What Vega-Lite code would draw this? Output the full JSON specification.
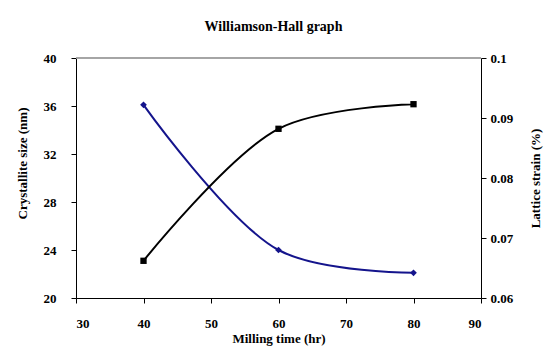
{
  "$schema": "https://vega.github.io/schema/vega-lite/v6.json",
  "width": 405,
  "height": 240,
  "autosize": {"type": "none"},
  "padding": {"left": 76, "top": 58, "right": 73, "bottom": 57},
  "background": "white",
  "config": {
    "view": {"stroke": null},
    "font": "Liberation Serif",
    "axis": {"labelFont": "Liberation Serif", "titleFont": "Liberation Serif", "labelFontWeight": "bold", "titleFontWeight": "bold", "labelFontSize": 13, "titleFontSize": 13, "labelColor": "black", "titleColor": "black", "domainColor": "black", "tickColor": "black", "grid": false, "tickSize": 5}
  },
  "title": {"text": "Williamson-Hall graph", "font": "Liberation Serif", "fontSize": 14, "fontWeight": "bold", "color": "black", "offset": 18, "dx": -5},
  "datasets": {
    "size": [
      {"time": 40, "size": 36.1},
      {"time": 60, "size": 24.0},
      {"time": 80, "size": 22.1}
    ],
    "strain": [
      {"time": 40, "strain": 0.0662},
      {"time": 60, "strain": 0.0882},
      {"time": 80, "strain": 0.0923}
    ]
  },
  "layer": [
    {
      "data": {"name": "size"},
      "layer": [
        {
          "mark": {"type": "line", "color": "#14148c", "strokeWidth": 2, "interpolate": "catmull-rom"},
          "encoding": {
            "x": {"field": "time", "type": "quantitative", "scale": {"domain": [30, 90]}, "axis": {"title": "Milling time (hr)", "values": [30, 40, 50, 60, 70, 80, 90], "titlePadding": 2, "labelPadding": 14}},
            "y": {"field": "size", "type": "quantitative", "scale": {"domain": [20, 40]}, "axis": {"title": "Crystallite size (nm)", "values": [20, 24, 28, 32, 36, 40], "titlePadding": 14, "titleY": 105, "labelPadding": 15}}
          }
        },
        {
          "mark": {"type": "point", "shape": "diamond", "filled": true, "color": "#14148c", "size": 45, "opacity": 1},
          "encoding": {
            "x": {"field": "time", "type": "quantitative", "axis": {"title": "Milling time (hr)", "values": [30, 40, 50, 60, 70, 80, 90], "titlePadding": 2, "labelPadding": 14}},
            "y": {"field": "size", "type": "quantitative", "axis": {"title": "Crystallite size (nm)", "values": [20, 24, 28, 32, 36, 40], "titlePadding": 14, "titleY": 105, "labelPadding": 15}}
          }
        }
      ]
    },
    {
      "data": {"name": "strain"},
      "layer": [
        {
          "mark": {"type": "rule", "color": "#999999", "strokeWidth": 1},
          "encoding": {
            "y": {"datum": 0.1, "type": "quantitative", "scale": {"domain": [0.06, 0.1]}}
          }
        },
        {
          "mark": {"type": "line", "color": "black", "strokeWidth": 2, "interpolate": "catmull-rom"},
          "encoding": {
            "x": {"field": "time", "type": "quantitative"},
            "y": {"field": "strain", "type": "quantitative", "scale": {"domain": [0.06, 0.1]}, "axis": {"orient": "right", "title": "Lattice strain (%)", "format": "~g", "values": [0.06, 0.07, 0.08, 0.09, 0.1], "titleAngle": 270, "titlePadding": 30, "labelPadding": 4}}
          }
        },
        {
          "mark": {"type": "square", "color": "black", "filled": true, "size": 40, "opacity": 1},
          "encoding": {
            "x": {"field": "time", "type": "quantitative"},
            "y": {"field": "strain", "type": "quantitative", "axis": {"orient": "right", "title": "Lattice strain (%)", "format": "~g", "values": [0.06, 0.07, 0.08, 0.09, 0.1], "titleAngle": 270, "titlePadding": 30, "labelPadding": 4}}
          }
        }
      ]
    }
  ],
  "resolve": {"scale": {"y": "independent"}}
}
